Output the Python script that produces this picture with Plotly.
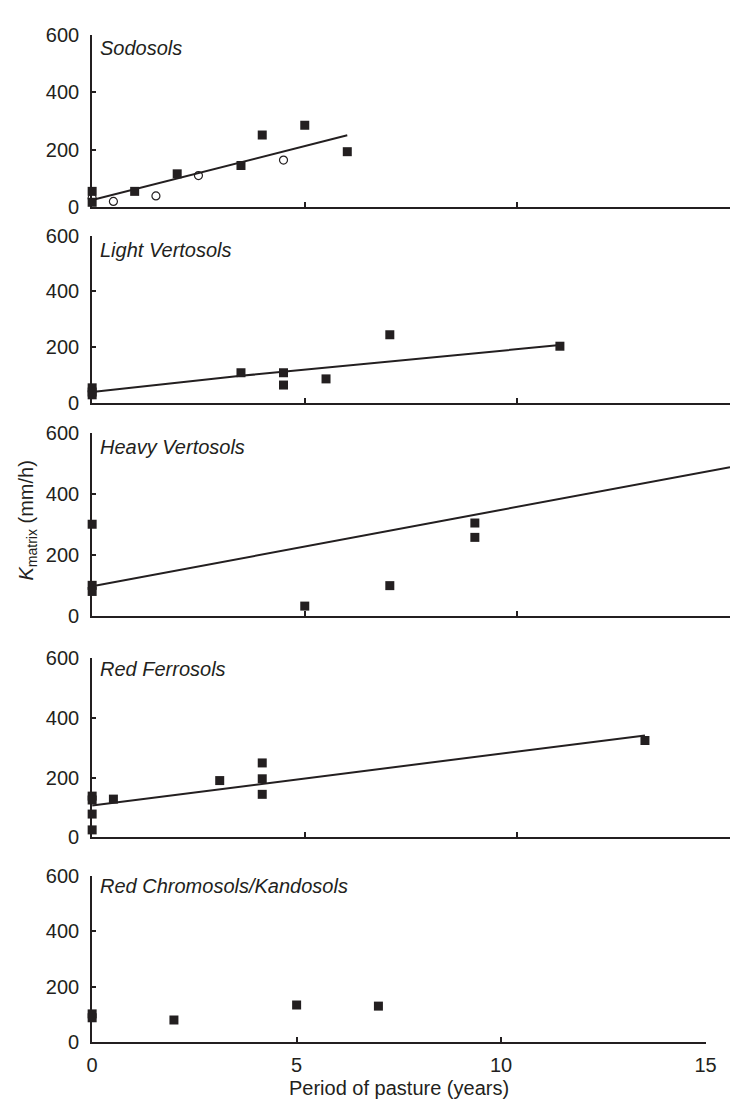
import plotly.graph_objects as go

# The page body adds an 8 px margin, so the figure is drawn 8 px smaller
# and every screen position below is shifted by OFF.
OFF = 8
SCREEN_W, SCREEN_H = 741, 1113
W, H = SCREEN_W - OFF, SCREEN_H - OFF
INK = "#231f20"
FONT = "Liberation Sans, Arial, Helvetica, sans-serif"

# ---- data ----
panel_names = ["Sodosols", "Light Vertosols", "Heavy Vertosols",
               "Red Ferrosols", "Red Chromosols/Kandosols"]

sod_fill_x = [0, 0, 1, 2, 3.5, 4, 5, 6]
sod_fill_y = [55, 17, 55, 116, 145, 251, 285, 193]
sod_open_x = [0, 0.5, 1.5, 2.5, 4.5]
sod_open_y = [32, 20, 39, 110, 164]
sod_line_x = [0, 6]
sod_line_y = [25, 250]

lv_x = [0, 0, 0, 3.5, 4.5, 4.5, 5.5, 7, 11]
lv_y = [55, 40, 30, 109, 109, 65, 87, 245, 204]
lv_line_x = [0, 3.5, 11]
lv_line_y = [40, 98, 208]

hv_x = [0, 0, 0, 5, 7, 9, 9]
hv_y = [300, 100, 80, 32, 99, 304, 257]
hv_line_x = [0, 15]
hv_line_y = [97, 487]

rf_x = [0, 0, 0, 0, 0.5, 3, 4, 4, 4, 13]
rf_y = [138, 125, 78, 25, 128, 190, 249, 196, 144, 324]
rf_line_x = [0, 13]
rf_line_y = [107, 341]

rc_x = [0, 0, 2, 5, 7]
rc_y = [102, 88, 80, 134, 130]

y_ticks = [0, 200, 400, 600]
x_ticks = [0, 5, 10, 15]

# ---- layout geometry (screen pixels) ----
panel_px = [(24, 200), (229, 400), (430, 617), (660, 843), (882, 1052)]
title_px = [37.5, 244, 445, 671, 893]
x_left = 88
x_right_top = 741
x_right_bottom = 716


def fx(px):
    return (px - OFF) / W


def fy(py):
    return 1 - (py - OFF) / H


fig = go.Figure()


def add_sq(x, y, ax):
    fig.add_trace(go.Scatter(x=x, y=y, mode="markers", xaxis="x" + ax, yaxis="y" + ax,
                             marker=dict(symbol="square", size=9, color=INK),
                             cliponaxis=False, showlegend=False))


def add_line(x, y, ax):
    fig.add_trace(go.Scatter(x=x, y=y, mode="lines", xaxis="x" + ax, yaxis="y" + ax,
                             line=dict(color=INK, width=2), cliponaxis=False,
                             showlegend=False))


# panel 1
add_line(sod_line_x, sod_line_y, "")
add_sq(sod_fill_x, sod_fill_y, "")
fig.add_trace(go.Scatter(x=sod_open_x, y=sod_open_y, mode="markers",
                         marker=dict(symbol="circle-open", size=8, color=INK,
                                     line=dict(width=1.2)),
                         cliponaxis=False, showlegend=False))
# panel 2
add_line(lv_line_x, lv_line_y, "2")
add_sq(lv_x, lv_y, "2")
# panel 3
add_line(hv_line_x, hv_line_y, "3")
add_sq(hv_x, hv_y, "3")
# panel 4
add_line(rf_line_x, rf_line_y, "4")
add_sq(rf_x, rf_y, "4")
# panel 5
add_sq(rc_x, rc_y, "5")

layout = dict(
    width=W, height=H,
    margin=dict(l=0, r=0, t=0, b=0),
    paper_bgcolor="white", plot_bgcolor="white",
    font=dict(family=FONT, size=20, color=INK),
    showlegend=False,
)

annotations = []
for i, ((top, bot), name, ty) in enumerate(zip(panel_px, panel_names, title_px)):
    k = "" if i == 0 else str(i + 1)
    last = (i == 4)
    xr = x_right_bottom if last else x_right_top
    layout["xaxis" + k] = dict(
        domain=[fx(x_left), min(1.0, fx(xr))], range=[0, 15], anchor="y" + k,
        tickvals=x_ticks, ticks="inside", ticklen=5, tickwidth=1.5, tickcolor=INK,
        showticklabels=last, showline=True, linewidth=2, linecolor=INK,
        showgrid=False, zeroline=False, fixedrange=True, ticklabelstandoff=4,
        tickfont=dict(size=20, family=FONT, color=INK),
    )
    layout["yaxis" + k] = dict(
        domain=[fy(bot), fy(top)], range=[0, 600], anchor="x" + k,
        tickvals=y_ticks, ticks="inside", ticklen=4, tickwidth=1.5, tickcolor=INK,
        showline=True, linewidth=2, linecolor=INK, showgrid=False, zeroline=False,
        tickfont=dict(size=20, family=FONT, color=INK), ticklabelstandoff=7,
        fixedrange=True,
    )
    annotations.append(dict(
        text="<i>" + name + "</i>", xref="paper", yref="paper",
        x=fx(94), y=fy(ty), xanchor="left", yanchor="middle",
        showarrow=False, font=dict(size=20, family=FONT, color=INK)))

annotations.append(dict(
    text="<i>K</i><sub>matrix</sub> (mm/h)", xref="paper", yref="paper",
    x=fx(22), y=fy(520), xanchor="center", yanchor="middle", textangle=-90,
    showarrow=False, font=dict(size=20, family=FONT, color=INK)))
annotations.append(dict(
    text="Period of pasture (years)", xref="paper", yref="paper",
    x=fx((x_left + x_right_bottom) / 2), y=fy(1099), xanchor="center",
    yanchor="middle", showarrow=False, font=dict(size=20, family=FONT, color=INK)))
layout["annotations"] = annotations

fig.update_layout(**layout)
fig.write_html("out.html")
